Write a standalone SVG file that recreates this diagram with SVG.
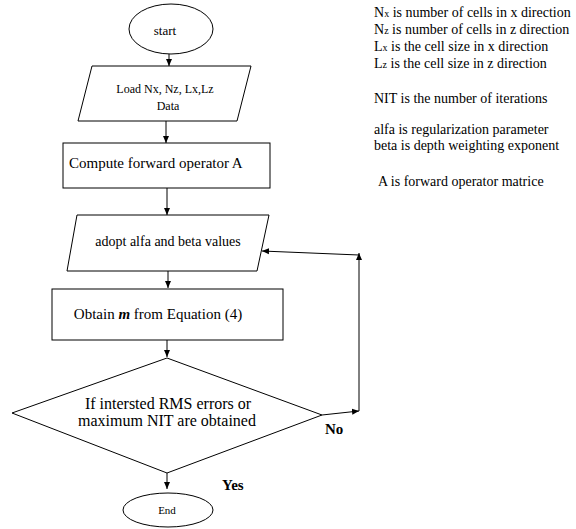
<svg xmlns="http://www.w3.org/2000/svg" width="576" height="529" viewBox="0 0 576 529">
<style>
.s{fill:#fff;stroke:#000;stroke-width:1}
.t{font-family:"Liberation Serif","Times New Roman",serif;fill:#000}
.c{stroke:#000;stroke-width:1;fill:none;marker-end:url(#ah)}
.b{font-weight:bold}
</style>
<defs>
<marker id="ah" markerWidth="8" markerHeight="8" refX="7" refY="4" orient="auto" markerUnits="userSpaceOnUse">
<path d="M0,1 L7,4 L0,7 Z" fill="#000"/>
</marker>
</defs>
<rect width="576" height="529" fill="#fff"/>
<g id="connectors">
<line class="c" x1="169" y1="54" x2="169" y2="66"/>
<line class="c" x1="166" y1="121" x2="166" y2="143"/>
<line class="c" x1="167" y1="188" x2="167" y2="215"/>
<line class="c" x1="168" y1="271" x2="168" y2="288"/>
<line class="c" x1="167" y1="340" x2="167" y2="357"/>
<line class="c" x1="322" y1="415" x2="359" y2="411"/>
<line class="c" x1="359" y1="411" x2="359" y2="253"/>
<line class="c" x1="359" y1="255" x2="262" y2="251"/>
<line class="c" x1="167" y1="473" x2="167" y2="489"/>
<text class="t b" x="325" y="434" font-size="15">No</text>
<text class="t b" x="222" y="490" font-size="15">Yes</text>
</g>
<g id="start">
<ellipse class="s" cx="171" cy="29" rx="42" ry="25"/>
<text class="t" x="165" y="35" font-size="13" text-anchor="middle">start</text>
</g>
<g id="load">
<polygon class="s" points="92,66 251,66 237,121 78,121"/>
<text class="t" x="165" y="93" font-size="12" text-anchor="middle">Load Nx, Nz, Lx,Lz</text>
<text class="t" x="168" y="110" font-size="12" text-anchor="middle">Data</text>
</g>
<g id="compute">
<rect class="s" x="63" y="143" width="207" height="45"/>
<text class="t" x="69" y="168" font-size="15">Compute forward operator A</text>
</g>
<g id="adopt">
<polygon class="s" points="77,215 269,215 257,271 67,271"/>
<text class="t" x="168" y="246" font-size="14" text-anchor="middle">adopt alfa and beta values</text>
</g>
<g id="obtain">
<rect class="s" x="52" y="289" width="231" height="51"/>
<text class="t" x="158" y="319" font-size="15" text-anchor="middle">Obtain <tspan font-style="italic" font-weight="bold">m</tspan> from Equation (4)</text>
</g>
<g id="decision">
<polygon class="s" points="167,358 322,415 167,473 12,413"/>
<text class="t" x="168" y="409" font-size="16" text-anchor="middle">If intersted RMS errors or</text>
<text class="t" x="167" y="426" font-size="16" text-anchor="middle">maximum NIT are obtained</text>
</g>
<g id="end">
<ellipse class="s" cx="168" cy="510" rx="45" ry="17"/>
<text class="t" x="167" y="514" font-size="11" text-anchor="middle">End</text>
</g>
<g id="legend" class="t" font-size="14">
<text x="374" y="17">N<tspan font-size="10">x</tspan> is number of cells in x direction</text>
<text x="374" y="34">N<tspan font-size="10">z</tspan> is number of cells in z direction</text>
<text x="374" y="51">L<tspan font-size="10">x</tspan> is the cell size in x direction</text>
<text x="374" y="68">L<tspan font-size="10">z</tspan> is the cell size in z direction</text>
<text x="374" y="103">NIT is the number of iterations</text>
<text x="374" y="134">alfa is regularization parameter</text>
<text x="374" y="150">beta is depth weighting exponent</text>
<text x="378" y="186">A is forward operator matrice</text>
</g>
</svg>
